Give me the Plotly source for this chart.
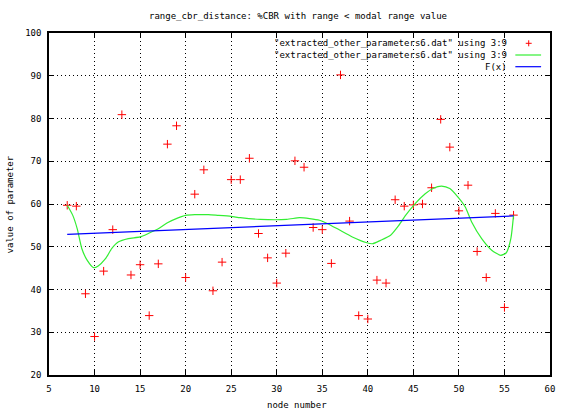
import plotly.graph_objects as go

# node numbers and measured parameter values (column 3 vs column 9)
node = list(range(7, 57))
value = [59.7, 59.5, 39.0, 29.0, 44.3, 54.0, 80.9, 43.4, 45.8, 33.9,
         46.0, 74.0, 78.3, 42.8, 62.3, 68.0, 39.7, 46.4, 65.7, 65.7,
         70.7, 53.1, 47.4, 41.5, 48.5, 70.1, 68.6, 54.5, 54.0, 46.1,
         90.2, 56.0, 33.9, 33.1, 42.2, 41.5, 61.0, 59.5, 59.8, 60.0,
         63.8, 79.8, 73.3, 58.4, 64.4, 48.9, 42.8, 57.8, 35.8, 57.4]

# smoothed curve through the same data
smooth_x = [7.0, 7.6, 8.1, 8.6, 9.2, 9.9, 10.4, 11.2, 11.9, 12.6, 13.7, 15.0,
            15.9, 17.0, 18.0, 19.1, 20.0, 21.0, 22.5, 23.5, 25.0, 26.0, 28.2,
            31.1, 32.5, 33.6, 34.7, 35.6, 36.9, 38.3, 39.8, 40.5, 41.4, 42.5,
            43.4, 44.1, 45.2, 46.3, 47.2, 48.1, 49.0, 49.9, 50.7, 51.4, 52.5,
            53.6, 54.6, 55.2, 55.7, 56.0]
smooth_y = [59.7, 57.4, 54.2, 49.6, 46.8, 45.1, 45.5, 47.2, 49.6, 51.1, 51.9, 52.3,
            53.1, 54.2, 55.6, 56.7, 57.35, 57.5, 57.5, 57.35, 57.1, 56.8, 56.4,
            56.4, 56.8, 56.6, 56.2, 55.4, 53.9, 52.3, 51.0, 50.7, 51.5, 52.7,
            55.0, 57.2, 60.1, 62.4, 63.7, 64.2, 63.6, 61.6, 59.3, 55.8, 51.9,
            49.2, 48.0, 48.6, 51.9, 57.4]

# linear fit F(x)
fit_x = [7, 56]
fit_y = [52.9, 57.2]

x_ticks = [5, 10, 15, 20, 25, 30, 35, 40, 45, 50, 55, 60]
y_ticks = [20, 30, 40, 50, 60, 70, 80, 90, 100]

title_text = "range_cbr_distance: %CBR with range < modal range value"
legend_labels = ['"extracted_other_parameters6.dat" using 3:9',
                 '"extracted_other_parameters6.dat" using 3:9',
                 'F(x)']

W, H = 564, 410
L, R, T, B = 49, 9, 33, 35
FONT = dict(family="DejaVu Sans Mono, Liberation Mono, monospace", size=9, color="black")
RED, GREEN, BLUE = "#ff0000", "#33ee33", "#0000ff"


def px(x):
    return (x - L) / (W - L - R)


def py(y):
    return (H - B - y) / (H - T - B)


fig = go.Figure()
fig.add_trace(go.Scatter(x=node, y=value, mode="markers",
                         marker=dict(symbol="cross-thin", size=6,
                                     line=dict(color=RED, width=1)),
                         showlegend=False))
fig.add_trace(go.Scatter(x=smooth_x, y=smooth_y, mode="lines",
                         line=dict(color=GREEN, width=1.2, shape="spline", smoothing=0.6),
                         showlegend=False))
fig.add_trace(go.Scatter(x=fit_x, y=fit_y, mode="lines",
                         line=dict(color=BLUE, width=1.2), showlegend=False))

axis_common = dict(showline=True, mirror="allticks", linecolor="black", linewidth=1.5,
                   ticks="inside", ticklen=5, tickcolor="black", tickwidth=1,
                   showgrid=True, gridcolor="black", gridwidth=1, griddash="1px,3px",
                   zeroline=False, tickfont=FONT)

fig.update_xaxes(range=[5, 60], tickvals=x_ticks, ticktext=[str(v) for v in x_ticks],
                 ticklabelstandoff=4, **axis_common)
fig.update_yaxes(range=[20, 100], tickvals=y_ticks, ticktext=[str(v) for v in y_ticks],
                 ticklabelstandoff=4, **axis_common)

annotations = [
    dict(text=title_text, x=px(300), y=py(15.5), xanchor="center", yanchor="middle"),
    dict(text="node number", x=px(299), y=py(405), xanchor="center", yanchor="middle"),
    dict(text="value of parameter", x=px(10), y=py(204), xanchor="center",
         yanchor="middle", textangle=-90),
]
legend_rows = [43.3, 55.0, 66.7]
for label, row in zip(legend_labels, legend_rows):
    annotations.append(dict(text=label, x=px(514), y=py(row), xanchor="right",
                            yanchor="middle"))
for a in annotations:
    a.update(xref="paper", yref="paper", showarrow=False, font=FONT)

shapes = [
    # legend key: red plus
    dict(type="line", x0=px(530.5), x1=px(536.5), y0=py(legend_rows[0]), y1=py(legend_rows[0]),
         line=dict(color=RED, width=1)),
    dict(type="line", x0=px(533.5), x1=px(533.5), y0=py(legend_rows[0] - 3),
         y1=py(legend_rows[0] + 3), line=dict(color=RED, width=1)),
    # legend key: green and blue lines
    dict(type="line", x0=px(520), x1=px(546), y0=py(legend_rows[1]), y1=py(legend_rows[1]),
         line=dict(color=GREEN, width=1.2)),
    dict(type="line", x0=px(520), x1=px(546), y0=py(legend_rows[2]), y1=py(legend_rows[2]),
         line=dict(color=BLUE, width=1.2)),
]
for s in shapes:
    s.update(xref="paper", yref="paper")

fig.update_layout(width=W, height=H, margin=dict(l=L, r=R, t=T, b=B),
                  paper_bgcolor="white", plot_bgcolor="white", font=FONT,
                  showlegend=False, annotations=annotations, shapes=shapes)

fig.write_html("out.html")
